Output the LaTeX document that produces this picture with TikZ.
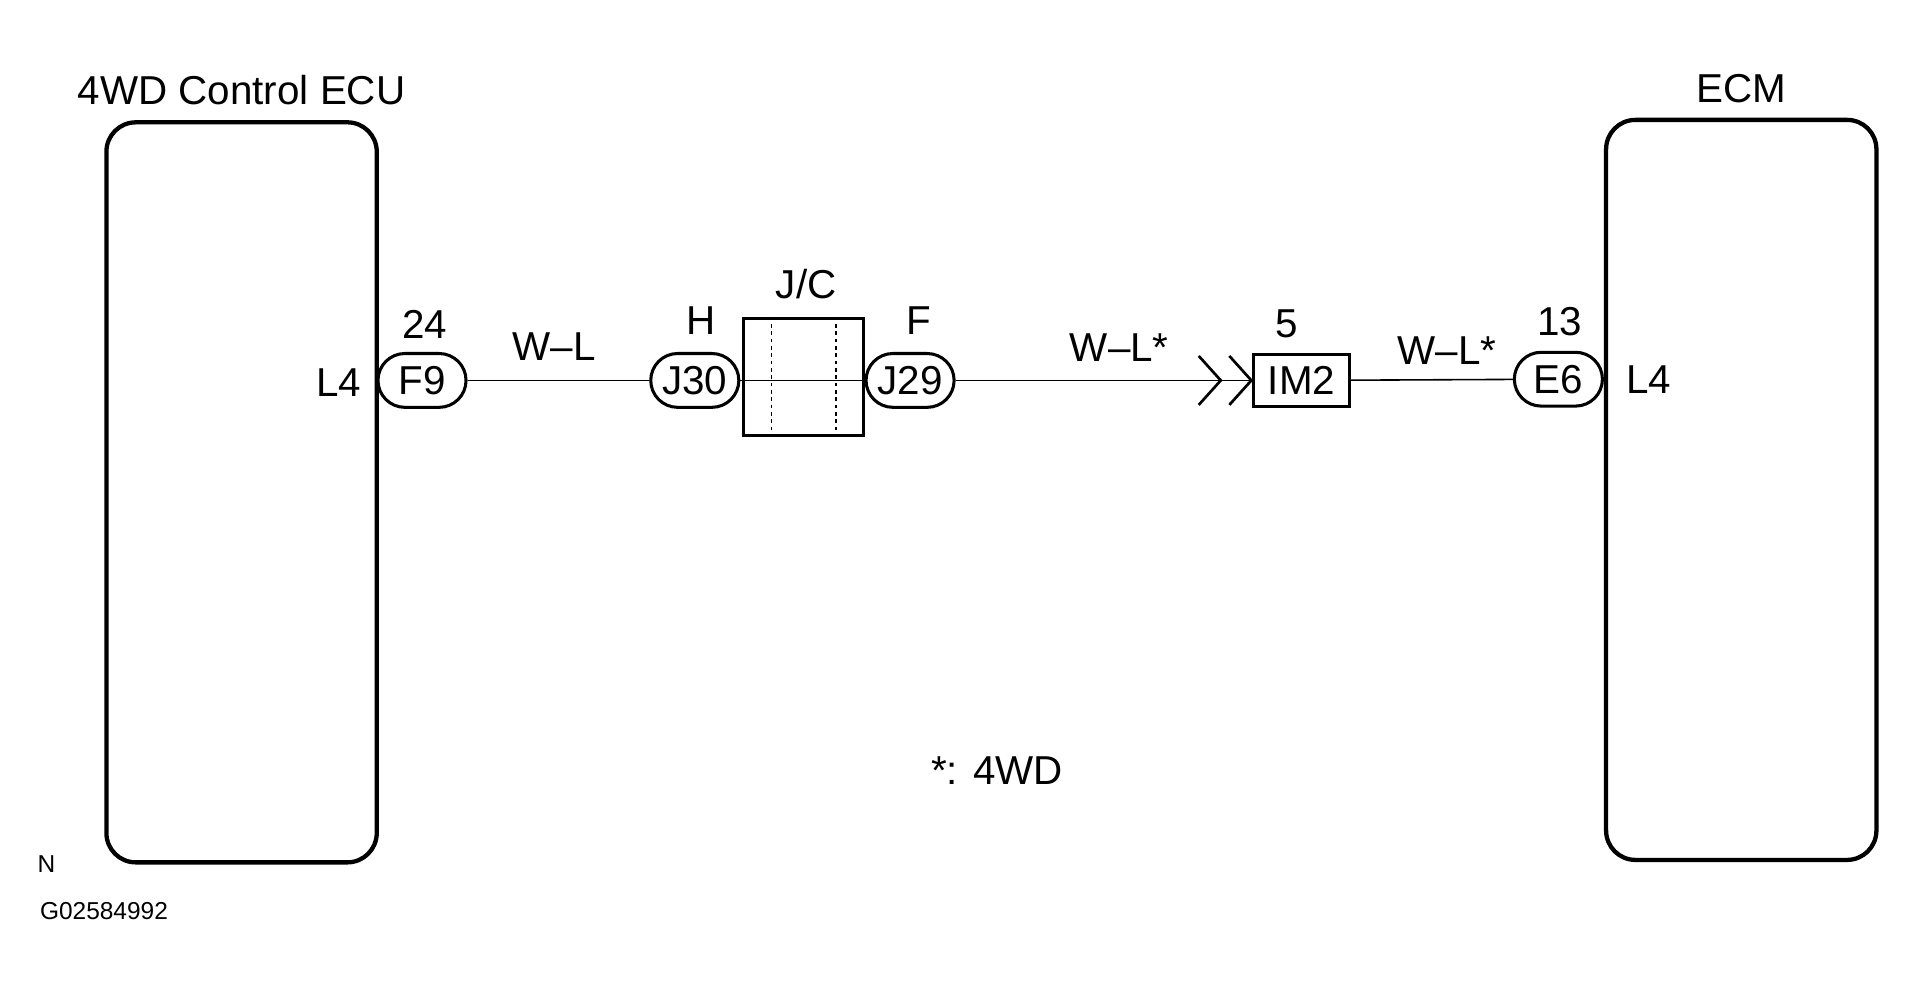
\documentclass[tikz,border=0pt]{standalone}
\usepackage{fontspec}
\setmainfont{Liberation Sans}
\usetikzlibrary{positioning}

\begin{document}
\begin{tikzpicture}[
  x=1pt, y=-1pt,
  every node/.style={font=\fontsize{33}{38}\selectfont, inner sep=0pt},
  ecu/.style={draw, line width=3.5pt, rounded corners=24pt,
    minimum width=221pt, minimum height=605pt},
  conn/.style={draw, line width=2.5pt, rounded corners=22pt,
    minimum width=72pt, minimum height=44pt},
  wire/.style={line width=1.3pt},
  small/.style={font=\fontsize{20}{24}\selectfont}
]
  \useasboundingbox (0,0) rectangle (1568,813);

  % units
  \node[ecu] (fwd) at (197.5,402.5) {};
  \node[ecu] (ecm) at (1423.5,400.5) {};
  \node[above=12pt of fwd] {4WD Control ECU};
  \node[above=12pt of ecm] {ECM};

  % connectors
  \node[conn] (f9) at (345,311) {F9};
  \node[conn] (j30) at (568,311) {J30};
  \node[draw, line width=2.5pt, minimum width=98pt, minimum height=96pt] (jc) at (657,308) {};
  \node[conn] (j29) at (744,311) {J29};
  \node[draw, line width=2.5pt, minimum width=78pt, minimum height=42pt] (im2) at (1064,311) {IM2};
  \node[conn] (e6) at (1274,310) {E6};
  \coordinate (chev) at (980,311);

  \draw[dashed, line width=1.2pt] ([xshift=24pt]jc.north west) -- ([xshift=24pt]jc.south west);
  \draw[dashed, line width=1.2pt] ([xshift=-24pt]jc.north east) -- ([xshift=-24pt]jc.south east);

  % labels
  \node at (277,313) {L4};
  \node at (347,265) {24};
  \node at (573,262) {H};
  \node at (659,232) {J/C};
  \node at (751,262) {F};
  \node at (1052,265) {5};
  \node at (1275,263) {13};
  \node at (1348,310) {L4};
  \node at (453,283) {W--L};
  \node at (915,284) {W--L*};
  \node at (1183,287) {W--L*};
  \node at (815,630) {*: 4WD};
  \node[small] at (38,706) {N};
  \node[small] at (85,745) {G02584992};

  % wires
  \draw[wire] (f9) -- (j30);
  \draw[wire] (j30) -- (j29);
  \draw[wire] (j29) -- (im2);
  \draw[wire] (im2) -- (e6);
  \draw[line width=2.2pt] (chev) ++(0,-20) -- ++(18,20) -- ++(-18,20);
  \draw[line width=2.2pt] (chev) ++(25,-20) -- ++(18,20) -- ++(-18,20);
\end{tikzpicture}
\end{document}
